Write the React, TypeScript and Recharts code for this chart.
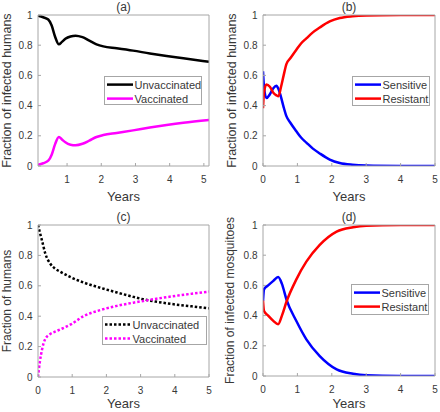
import { Legend, Line, LineChart, XAxis, YAxis } from "recharts";

// panel (a): fraction of infected humans by vaccination status
const aYears = [0.15, 0.3, 0.45, 0.55, 0.65, 0.76, 0.85, 0.95, 1.1, 1.25, 1.45, 1.65, 1.86, 2.06, 2.45, 2.93, 3.42, 3.91, 4.4, 5.15];
const aUnvaccinated = [0.995, 0.985, 0.97, 0.93, 0.856, 0.806, 0.822, 0.842, 0.858, 0.863, 0.853, 0.83, 0.806, 0.792, 0.78, 0.764, 0.745, 0.728, 0.713, 0.69];
const aVaccinated = [0.008, 0.018, 0.035, 0.075, 0.145, 0.192, 0.176, 0.157, 0.141, 0.137, 0.147, 0.168, 0.192, 0.205, 0.219, 0.236, 0.255, 0.272, 0.287, 0.305];

// panel (b): infected humans, sensitive vs resistant
const bYears = [0, 0.03, 0.1, 0.2, 0.3, 0.39, 0.45, 0.52, 0.6, 0.68, 0.8, 0.97, 1.1, 1.26, 1.45, 1.65, 1.94, 2.23, 2.6, 3, 4, 5];
const bSensitive = [0.627, 0.52, 0.45, 0.475, 0.515, 0.531, 0.51, 0.46, 0.39, 0.33, 0.285, 0.23, 0.19, 0.155, 0.115, 0.083, 0.043, 0.02, 0.008, 0.003, 0.0005, 0];
const bResistant = [0.383, 0.49, 0.54, 0.525, 0.485, 0.468, 0.462, 0.52, 0.6, 0.675, 0.715, 0.77, 0.81, 0.845, 0.885, 0.917, 0.957, 0.98, 0.992, 0.997, 0.9995, 1];

// panel (c): fraction of humans by vaccination status
const cYears = [0, 0.05, 0.12, 0.21, 0.36, 0.5, 0.65, 0.99, 1.33, 1.82, 2.31, 2.79, 3.08, 3.47, 4.06, 4.5, 5];
const cUnvaccinated = [1, 0.955, 0.895, 0.815, 0.745, 0.713, 0.693, 0.653, 0.622, 0.587, 0.556, 0.527, 0.511, 0.495, 0.476, 0.465, 0.452];
const cVaccinated = [0, 0.093, 0.183, 0.249, 0.283, 0.298, 0.313, 0.35, 0.4, 0.44, 0.468, 0.489, 0.5, 0.515, 0.535, 0.548, 0.562];

// panel (d): infected mosquitoes, sensitive vs resistant
const dYears = [0, 0.03, 0.15, 0.3, 0.44, 0.55, 0.68, 0.97, 1.26, 1.65, 2.14, 2.62, 3, 4, 5];
const dSensitive = [0.497, 0.574, 0.6, 0.63, 0.655, 0.61, 0.508, 0.364, 0.243, 0.132, 0.044, 0.015, 0.005, 0.0005, 0];
const dResistant = [0.5, 0.43, 0.4, 0.365, 0.343, 0.4, 0.49, 0.64, 0.757, 0.868, 0.956, 0.985, 0.995, 0.9995, 1];

const yTicks = [0, 0.2, 0.4, 0.6, 0.8, 1];
const xTicksFrom1 = [1, 2, 3, 4, 5];
const xTicksFrom0 = [0, 1, 2, 3, 4, 5];

const FONT = "'Liberation Sans', Arial, sans-serif";
const BOX = "#a6a6a6";
const TEXT = "#383838";

type Series = { name: string; values: number[]; color: string; dotted?: boolean };

type PanelProps = {
  left: number;
  top: number;
  plot: { l: number; t: number; r: number; b: number };
  xAxisH: number;
  title: string;
  yLabel: string;
  yLabelX: number;
  yLabelSize: number;
  years: number[];
  series: Series[];
  xDomain: [number, number];
  xTicks: number[];
  legend: { x: number; y: number; w: number; h: number };
};

function LegendBox({ w, h, series }: { w: number; h: number; series: Series[] }) {
  return (
    <svg width={w} height={h} style={{ display: "block" }}>
      <rect x={0.5} y={0.5} width={w - 1} height={h - 1} fill="#fff" stroke={BOX} />
      {series.map((s, i) => {
        const cy = 8.6 + i * 14;
        return (
          <g key={s.name}>
            <line
              x1={3}
              x2={29}
              y1={cy}
              y2={cy}
              stroke={s.color}
              strokeWidth={2.5}
              strokeDasharray={s.dotted ? "2.5 2" : undefined}
            />
            <text x={30.5} y={cy + 4} fontSize={11} fontFamily={FONT} fill={TEXT}>
              {s.name}
            </text>
          </g>
        );
      })}
    </svg>
  );
}

function Panel(p: PanelProps) {
  const W = 220;
  const H = 206;
  const data = p.years.map((t, i) => {
    const row: Record<string, number> = { t };
    p.series.forEach((s, k) => (row["s" + k] = s.values[i]));
    return row;
  });
  const tickStyle = { fontSize: 10, fill: TEXT, fontFamily: FONT };
  return (
    <div style={{ position: "absolute", left: p.left, top: p.top }}>
      <LineChart
        width={W}
        height={H}
        data={data}
        margin={{ left: 0, right: W - p.plot.r - 1, top: p.plot.t - 1, bottom: H - p.plot.b - p.xAxisH }}
      >
        <XAxis
          dataKey="t"
          type="number"
          domain={p.xDomain}
          ticks={p.xTicks}
          interval={0}
          allowDataOverflow
          height={p.xAxisH}
          stroke={BOX}
          tickSize={-3}
          tickMargin={13}
          tick={tickStyle}
          label={{ value: "Years", position: "insideBottom", offset: 0, fontSize: 13, fill: TEXT, fontFamily: FONT }}
        />
        <XAxis
          xAxisId="top"
          orientation="top"
          dataKey="t"
          type="number"
          domain={p.xDomain}
          ticks={p.xTicks}
          interval={0}
          allowDataOverflow
          height={1}
          stroke={BOX}
          tickSize={-3}
          tick={false}
          label={{ value: p.title, position: "top", offset: 3.5, fontSize: 12, fill: TEXT, fontFamily: FONT }}
        />
        <YAxis
          type="number"
          domain={[0, 1]}
          ticks={yTicks}
          interval={0}
          allowDataOverflow
          width={p.plot.l}
          stroke={BOX}
          tickSize={-3}
          tickMargin={8.5}
          tick={tickStyle}
          label={{
            value: p.yLabel,
            angle: -90,
            position: "insideLeft",
            offset: p.yLabelX,
            fontSize: p.yLabelSize,
            fill: TEXT,
            fontFamily: FONT,
            style: { textAnchor: "middle" },
          }}
        />
        <YAxis
          yAxisId="right"
          orientation="right"
          type="number"
          domain={[0, 1]}
          ticks={yTicks}
          interval={0}
          width={1}
          stroke={BOX}
          tickSize={-3}
          tick={false}
        />
        {p.series.map((s, k) => (
          <Line
            key={s.name}
            dataKey={"s" + k}
            type="monotone"
            stroke={s.color}
            strokeWidth={2.5}
            strokeDasharray={s.dotted ? "2.5 2" : undefined}
            dot={false}
            activeDot={false}
            isAnimationActive={false}
          />
        ))}
        <Legend
          layout="vertical"
          align="center"
          verticalAlign="middle"
          wrapperStyle={{ left: p.legend.x, top: p.legend.y, width: p.legend.w, height: p.legend.h }}
          content={() => <LegendBox w={p.legend.w} h={p.legend.h} series={p.series} />}
        />
      </LineChart>
    </div>
  );
}

export default function App() {
  return (
    <div style={{ position: "absolute", left: 0, top: 0, width: 440, height: 412, background: "#fff" }}>
      <Panel
        left={0}
        top={0}
        plot={{ l: 38, t: 15, r: 209, b: 166 }}
        xAxisH={35}
        title="(a)"
        yLabel="Fraction of infected humans"
        yLabelX={7}
        yLabelSize={12.5}
        years={aYears}
        xDomain={[0.15, 5.15]}
        xTicks={xTicksFrom1}
        series={[
          { name: "Unvaccinated", values: aUnvaccinated, color: "#000000" },
          { name: "Vaccinated", values: aVaccinated, color: "#ff00ff" },
        ]}
        legend={{ x: 104, y: 76, w: 98, h: 29 }}
      />
      <Panel
        left={220}
        top={0}
        plot={{ l: 43, t: 15, r: 215, b: 166 }}
        xAxisH={35}
        title="(b)"
        yLabel="Fraction of infected humans"
        yLabelX={12}
        yLabelSize={12.5}
        years={bYears}
        xDomain={[0, 5]}
        xTicks={xTicksFrom0}
        series={[
          { name: "Sensitive", values: bSensitive, color: "#0000ff" },
          { name: "Resistant", values: bResistant, color: "#ff0000" },
        ]}
        legend={{ x: 132, y: 76, w: 78, h: 30 }}
      />
      <Panel
        left={0}
        top={206}
        plot={{ l: 38, t: 19, r: 209, b: 171 }}
        xAxisH={31}
        title="(c)"
        yLabel="Fraction of humans"
        yLabelX={7}
        yLabelSize={12}
        years={cYears}
        xDomain={[0, 5]}
        xTicks={xTicksFrom0}
        series={[
          { name: "Unvaccinated", values: cUnvaccinated, color: "#000000", dotted: true },
          { name: "Vaccinated", values: cVaccinated, color: "#ff00ff", dotted: true },
        ]}
        legend={{ x: 102, y: 110, w: 105, h: 29 }}
      />
      <Panel
        left={220}
        top={206}
        plot={{ l: 43, t: 19, r: 215, b: 170 }}
        xAxisH={32}
        title="(d)"
        yLabel="Fraction of infected mosquitoes"
        yLabelX={10}
        yLabelSize={12}
        years={dYears}
        xDomain={[0, 5]}
        xTicks={xTicksFrom0}
        series={[
          { name: "Sensitive", values: dSensitive, color: "#0000ff" },
          { name: "Resistant", values: dResistant, color: "#ff0000" },
        ]}
        legend={{ x: 131, y: 78, w: 78, h: 31 }}
      />
    </div>
  );
}
